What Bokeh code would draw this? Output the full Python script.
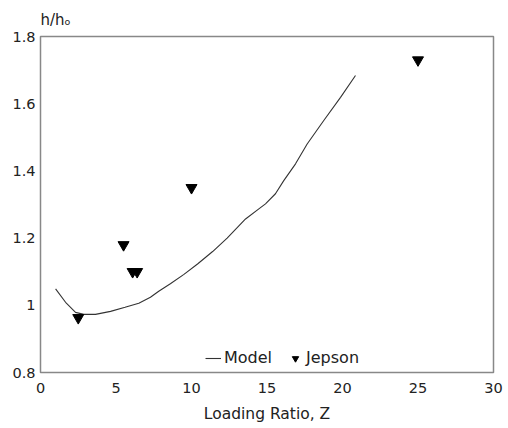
from bokeh.plotting import figure
from bokeh.models import Range1d, FixedTicker, CustomJSTickFormatter, Legend, LegendItem
from bokeh.embed import file_html
from bokeh.resources import INLINE

# Model curve
model_z = [1.0, 1.66, 2.32, 2.87, 3.64, 4.64, 5.6, 6.51, 7.28, 7.83, 8.6, 9.5, 10.4,
           11.4, 12.36, 13.58, 14.46, 14.9, 15.56, 16.11, 16.89, 17.66, 18.76, 19.87, 20.86]
model_h = [1.049, 1.009, 0.979, 0.973, 0.973, 0.982, 0.994, 1.006, 1.024, 1.042, 1.064, 1.092, 1.123,
           1.16, 1.2, 1.257, 1.287, 1.302, 1.332, 1.371, 1.421, 1.48, 1.55, 1.619, 1.684]

# Jepson measurements
jepson_z = [2.5, 5.5, 6.1, 6.4, 10.0, 25.0]
jepson_h = [0.963, 1.18, 1.1, 1.1, 1.35, 1.73]

x_ticks = [0, 5, 10, 15, 20, 25, 30]
y_ticks = [0.8, 1.0, 1.2, 1.4, 1.6, 1.8]
y_tick_labels = ["0.8", "1", "1.2", "1.4", "1.6", "1.8"]

FONT = "DejaVu Sans"
TXT = "#222222"

p = figure(width=508, height=428, output_backend="svg", toolbar_location=None,
           x_range=Range1d(0, 30), y_range=Range1d(0.8, 1.8),
           min_border_left=40, min_border_right=15, min_border_top=36, min_border_bottom=56)
p.background_fill_color = "white"
p.border_fill_color = "white"
p.outline_line_color = "#888888"
p.outline_line_width = 1.5
p.xgrid.visible = False
p.ygrid.visible = False

p.title.text = "h/h\u2092"
p.title.text_font = FONT
p.title.text_font_size = "15px"
p.title.text_font_style = "normal"
p.title.text_color = TXT
p.title.align = "left"
p.title.offset = 0
p.title.standoff = 16

for ax in (p.xaxis[0], p.yaxis[0]):
    ax.axis_line_color = None
    ax.major_tick_line_color = None
    ax.minor_tick_line_color = None
    ax.major_tick_out = 0
    ax.major_tick_in = 0
    ax.minor_tick_out = 0
    ax.minor_tick_in = 0
    ax.major_label_text_font = FONT
    ax.major_label_text_font_size = "14.5px"
    ax.major_label_text_color = TXT

p.xaxis[0].ticker = FixedTicker(ticks=x_ticks)
p.xaxis[0].major_label_standoff = 10
p.xaxis[0].axis_label = "Loading Ratio, Z"
p.xaxis[0].axis_label_text_font = FONT
p.xaxis[0].axis_label_text_font_size = "15.5px"
p.xaxis[0].axis_label_text_font_style = "normal"
p.xaxis[0].axis_label_text_color = TXT
p.xaxis[0].axis_label_standoff = 9

p.yaxis[0].ticker = FixedTicker(ticks=y_ticks)
p.yaxis[0].major_label_standoff = 5
p.yaxis[0].formatter = CustomJSTickFormatter(
    args=dict(vals=y_ticks, labs=y_tick_labels),
    code="const i = vals.findIndex(v => Math.abs(v - tick) < 1e-9); return i >= 0 ? labs[i] : String(tick);")

line = p.line(model_z, model_h, line_color="#333333", line_width=1.1)
pts = p.scatter(jepson_z, jepson_h, marker="inverted_triangle", size=11,
                fill_color="black", line_color="black")

legend = Legend(items=[LegendItem(label="Model", renderers=[line]),
                       LegendItem(label="Jepson", renderers=[pts])],
                orientation="horizontal", location=(165, 5),
                padding=0, margin=0, spacing=15, glyph_width=16, glyph_height=16,
                label_standoff=3, label_height=16,
                label_text_font=FONT, label_text_font_size="16px", label_text_color=TXT,
                border_line_color=None, background_fill_alpha=0)
p.add_layout(legend, "center")

open("out.html", "w").write(file_html(p, INLINE))
